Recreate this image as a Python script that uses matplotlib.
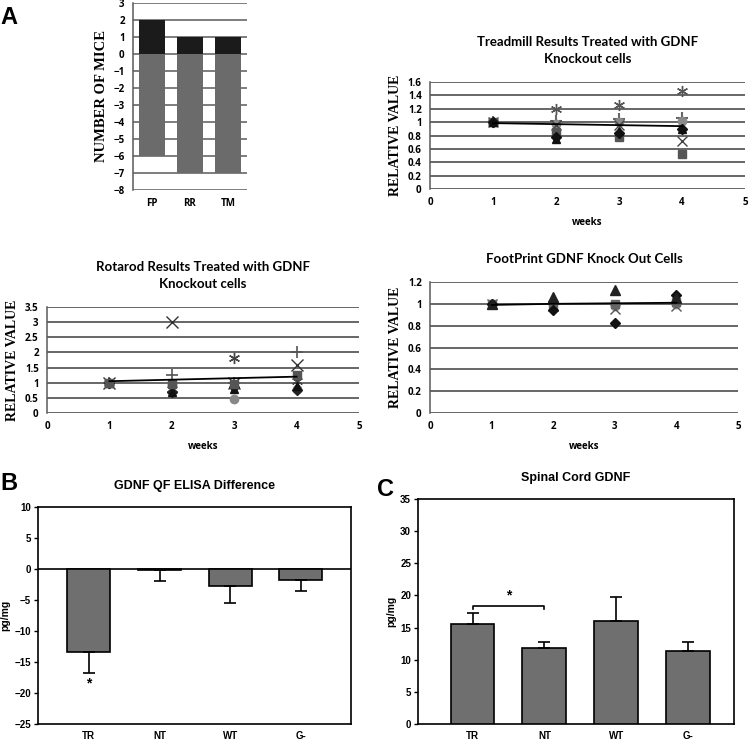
import matplotlib
matplotlib.use("Agg")
import matplotlib.pyplot as plt
import numpy as np

# ---------------- data ----------------
a_categories = ["FP", "RR", "TM"]
a_improved = [2, 1, 1]
a_declined = [-6, -7, -7]
a_yticks = list(range(-8, 4))

weeks = [1, 2, 3, 4]

tm_asterisk = [1.0, 1.20, 1.26, 1.47]
tm_plus = [1.0, 1.02, 1.05, 1.06]
tm_circle = [1.0, 0.97, 1.00, 1.02]
tm_square = [1.0, 0.85, 0.78, 0.53]
tm_diamond = [1.0, 0.78, 0.84, 0.90]
tm_triangle = [1.0, 0.75, 0.87, 0.90]
tm_x = [1.0, 0.95, 0.95, 0.72]
tm_trend = [0.985, 0.97, 0.955, 0.94]

rr_x = [1.0, 3.0, 1.0, 1.6]
rr_plus = [1.0, 1.25, 1.0, 2.0]
rr_asterisk = [1.0, 0.80, 1.80, 1.05]
rr_square = [1.0, 0.95, 0.95, 1.25]
rr_diamond = [1.0, 0.70, 0.85, 0.75]
rr_triangle = [1.0, 0.70, 0.80, 0.90]
rr_circle = [1.0, 0.95, 0.45, 0.78]
rr_trend = [1.05, 1.10, 1.15, 1.20]

fp_triangle = [1.0, 1.06, 1.13, 1.05]
fp_diamond = [1.0, 0.94, 0.82, 1.08]
fp_square = [1.0, 1.00, 1.00, 1.02]
fp_x = [1.0, 0.98, 0.95, 0.98]
fp_circle = [1.0, 1.00, 0.98, 1.00]
fp_trend = [0.99, 1.00, 1.005, 1.01]

b_categories = ["TR", "NT", "WT", "G-"]
b_means = [-13.4, -0.2, -2.7, -1.8]
b_errors = [3.4, 1.7, 2.8, 1.8]

c_categories = ["TR", "NT", "WT", "G-"]
c_means = [15.5, 11.8, 16.0, 11.4]
c_errors = [1.8, 0.9, 3.8, 1.4]

# ---------------- style ----------------
SANS_B = "Open Sans"
TITLE_F = "Lato"
SERIF = "Liberation Serif"
ARIAL = "Liberation Sans"
GRID = "#5a5a5a"

fig = plt.figure(figsize=(7.5, 7.4), dpi=100)

def px(l, r, t, b):
    return [l / 750, 1 - b / 740, (r - l) / 750, (b - t) / 740]

# ---------------- Panel A bar ----------------
ax = fig.add_axes(px(133, 247, 3, 190))
x = np.arange(len(a_categories))
ax.bar(x, a_improved, width=0.66, color="#1b1b1b", zorder=3)
ax.bar(x, a_declined, width=0.66, color="#6b6b6b", zorder=3)
ax.set_xlim(-0.5, 2.5)
ax.set_ylim(-8, 3)
ax.set_yticks(a_yticks)
for y in a_yticks:
    ax.axhline(y, color=GRID, lw=1.1, zorder=1)
ax.set_xticks(x)
ax.set_xticklabels(a_categories)
for s in ["top", "right", "bottom"]:
    ax.spines[s].set_visible(False)
ax.spines["left"].set_color(GRID)
ax.spines["left"].set_linewidth(1.1)
ax.tick_params(length=0, pad=6)
for lab in ax.get_xticklabels() + ax.get_yticklabels():
    lab.set_fontfamily(SANS_B); lab.set_fontweight("bold"); lab.set_fontsize(7)
ax.set_ylabel("NUMBER OF MICE", fontfamily=SERIF, fontweight="bold", fontsize=10.5, labelpad=4)

fig.text(0.0, 1 - 17 / 740, "A", fontsize=17, fontweight="bold", fontfamily=ARIAL, va="center")


def scatter_panel(rect, series, trend, ymax, ystep, title, ylabel_pad=4):
    ax = fig.add_axes(rect)
    ticks = np.round(np.arange(0, ymax + ystep / 2, ystep), 2)
    for y in ticks:
        ax.axhline(y, color=GRID, lw=1.3, zorder=1)
    ax.plot(weeks, trend, color="black", lw=1.3, zorder=4)
    for vals, mk, col, ms, mew in series:
        ax.plot(weeks, vals, linestyle="none", marker=mk, color=col,
                markersize=ms, markeredgewidth=mew, zorder=3)
    ax.set_xlim(0, 5)
    ax.set_ylim(0, ymax)
    ax.set_xticks([0, 1, 2, 3, 4, 5])
    ax.set_yticks(ticks)
    ax.set_yticklabels([f"{t:g}" for t in ticks])
    for s in ["top", "right", "bottom"]:
        ax.spines[s].set_visible(False)
    ax.spines["left"].set_color(GRID)
    ax.spines["left"].set_linewidth(1.1)
    ax.tick_params(length=0, pad=6)
    for lab in ax.get_xticklabels() + ax.get_yticklabels():
        lab.set_fontfamily(SANS_B); lab.set_fontweight("bold"); lab.set_fontsize(7)
    ax.set_xlabel("weeks", fontfamily=SANS_B, fontweight="bold", fontsize=7, labelpad=6)
    ax.set_ylabel("RELATIVE VALUE", fontfamily=SERIF, fontweight="bold", fontsize=10, labelpad=ylabel_pad)
    ax.set_title(title, fontfamily=TITLE_F, fontweight="bold", fontsize=9.5, pad=14, linespacing=1.5)
    return ax

AST = (6, 2, 0)
tm_series = [
    (tm_asterisk, AST, "#555555", 8, 1.0),
    (tm_plus, "+", "#666666", 8, 1.5),
    (tm_circle, "o", "#8a8a8a", 6, 1.0),
    (tm_x, "x", "#444444", 7, 1.0),
    (tm_square, "s", "#555555", 5.5, 1.0),
    (tm_diamond, "D", "#111111", 5, 1.0),
    (tm_triangle, "^", "#111111", 6, 1.0),
]
scatter_panel(px(430, 745, 82, 189), tm_series, tm_trend, 1.6, 0.2,
              "Treadmill Results Treated with GDNF\nKnockout cells")

rr_series = [
    (rr_x, "x", "#333333", 8, 1.0),
    (rr_plus, "+", "#555555", 8, 1.2),
    (rr_asterisk, AST, "#444444", 8, 1.0),
    (rr_circle, "o", "#888888", 6, 1.0),
    (rr_diamond, "D", "#222222", 5, 1.0),
    (rr_triangle, "^", "#111111", 6, 1.0),
    (rr_square, "s", "#555555", 6, 1.0),
]
scatter_panel(px(47, 359, 307, 413), rr_series, rr_trend, 3.5, 0.5,
              "Rotarod Results Treated with GDNF\nKnockout cells")

fp_series = [
    (fp_circle, "o", "#8a8a8a", 6, 1.0),
    (fp_x, "x", "#555555", 7, 1.0),
    (fp_square, "s", "#666666", 6, 1.0),
    (fp_diamond, "D", "#111111", 5, 1.0),
    (fp_triangle, "^", "#222222", 6.5, 1.0),
]
scatter_panel(px(430, 738, 282, 413), fp_series, fp_trend, 1.2, 0.2,
              "FootPrint GDNF Knock Out Cells")

# ---------------- Panel B / C ----------------
def bar_panel(rect, cats, means, errs, ylim, ystep, title, xlim):
    ax = fig.add_axes(rect)
    xx = np.arange(len(cats))
    ax.bar(xx, means, width=0.61, color="#6f6f6f", edgecolor="black", linewidth=1.2, zorder=3)
    for xi, m, e in zip(xx, means, errs):
        sgn = 1 if m >= 0 else -1
        ax.errorbar([xi], [m], yerr=[[0], [e]] if sgn > 0 else [[e], [0]],
                    fmt="none", ecolor="black", elinewidth=1.2, capsize=4, capthick=1.2, zorder=4)
    ax.set_xlim(*xlim)
    ax.set_ylim(*ylim)
    ax.set_yticks(np.arange(ylim[0], ylim[1] + 0.1, ystep))
    ax.set_xticks(xx)
    ax.set_xticklabels(cats)
    for s in ax.spines.values():
        s.set_linewidth(1.2)
    ax.tick_params(axis="y", length=3, width=1, pad=2)
    ax.tick_params(axis="x", length=0, pad=5)
    for lab in ax.get_xticklabels() + ax.get_yticklabels():
        lab.set_fontfamily(ARIAL); lab.set_fontweight("bold"); lab.set_fontsize(7)
    ax.set_ylabel("pg/mg", fontfamily=ARIAL, fontweight="bold", fontsize=7.5, labelpad=3)
    ax.set_title(title, fontfamily=ARIAL, fontweight="bold", fontsize=9, pad=13)
    return ax

axb = bar_panel(px(38, 351, 507, 724), b_categories, b_means, b_errors, (-25, 10), 5,
                "GDNF QF ELISA Difference", (-0.72, 3.71))
axb.axhline(0, color="black", lw=1.2, zorder=2)
axb.text(0, b_means[0] - b_errors[0] - 0.6, "*", ha="center", va="top",
         fontsize=10, fontweight="bold", fontfamily=ARIAL)
fig.text(0.0, 1 - 484 / 740, "B", fontsize=17, fontweight="bold", fontfamily=ARIAL, va="center")

axc = bar_panel(px(418, 734, 499, 724), c_categories, c_means, c_errors, (0, 35), 5,
                "Spinal Cord GDNF", (-0.76, 3.64))
br_y = 18.3
axc.plot([0, 0, 1, 1], [br_y - 0.4, br_y, br_y, br_y - 0.4], color="black", lw=1.2, zorder=4)
axc.text(0.5, br_y + 0.6, "*", ha="center", va="bottom", fontsize=10, fontweight="bold", fontfamily=ARIAL)
fig.text(377 / 750, 1 - 489 / 740, "C", fontsize=17, fontweight="bold", fontfamily=ARIAL, va="center")

fig.savefig("out.png", dpi=100)
